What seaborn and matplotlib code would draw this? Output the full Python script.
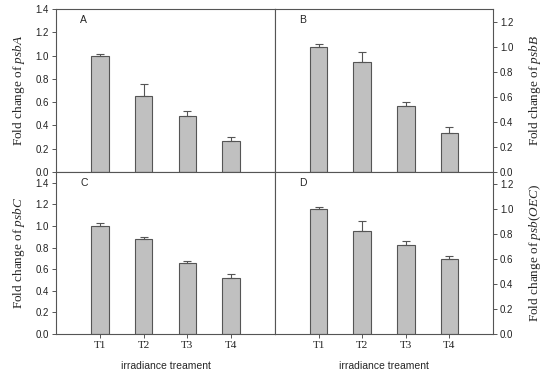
import pandas as pd
import matplotlib
matplotlib.use('Agg')
import matplotlib.pyplot as plt
import seaborn as sns

treatments = ['T1', 'T2', 'T3', 'T4']

psbA = [1.00, 0.655, 0.477, 0.266]
psbA_err = [0.015, 0.105, 0.046, 0.037]
psbB = [1.00, 0.878, 0.527, 0.309]
psbB_err = [0.02, 0.08, 0.034, 0.048]
psbC = [1.00, 0.88, 0.654, 0.515]
psbC_err = [0.025, 0.02, 0.025, 0.037]
psbOEC = [1.00, 0.827, 0.718, 0.601]
psbOEC_err = [0.02, 0.083, 0.027, 0.026]

panels = [
    ('A', psbA, psbA_err, r'Fold change of $\mathit{psbA}$', 1.4, [0, 0.2, 0.4, 0.6, 0.8, 1.0, 1.2, 1.4]),
    ('B', psbB, psbB_err, r'Fold change of $\mathit{psbB}$', 1.3, [0, 0.2, 0.4, 0.6, 0.8, 1.0, 1.2]),
    ('C', psbC, psbC_err, r'Fold change of $\mathit{psbC}$', 1.5, [0, 0.2, 0.4, 0.6, 0.8, 1.0, 1.2, 1.4]),
    ('D', psbOEC, psbOEC_err, r'Fold change of $\mathit{psb(OEC)}$', 1.3, [0, 0.2, 0.4, 0.6, 0.8, 1.0, 1.2]),
]

sns.set_style('ticks')
plt.rcParams['font.family'] = ['Liberation Sans', 'DejaVu Sans']
plt.rcParams['mathtext.fontset'] = 'custom'
plt.rcParams['mathtext.rm'] = 'Liberation Serif'
plt.rcParams['mathtext.it'] = 'Liberation Serif:italic'

EDGE = '#555555'
fig = plt.figure(figsize=(5.5, 3.77), dpi=100)
positions = [
    [0.1018, 0.5438, 0.3982, 0.4322],
    [0.5, 0.5438, 0.3964, 0.4322],
    [0.1018, 0.114, 0.3982, 0.4298],
    [0.5, 0.114, 0.3964, 0.4298],
]

for i, (letter, vals, errs, ylab, ymax, yt) in enumerate(panels):
    ax = fig.add_axes(positions[i])
    df = pd.DataFrame({'treatment': treatments, 'value': vals})
    sns.barplot(data=df, x='treatment', y='value', order=treatments,
                color='#c0c0c0', edgecolor=EDGE, linewidth=0.8,
                width=0.4, saturation=1, errorbar=None, ax=ax)
    ax.errorbar(range(len(treatments)), vals, yerr=[[0] * 4, errs],
                fmt='none', ecolor=EDGE, elinewidth=0.8, capsize=3, capthick=0.8)
    ax.set_xlim(-1, 4)
    ax.set_ylim(0, ymax)
    ax.set_yticks(yt)
    ax.set_yticklabels([f'{t:.1f}' for t in yt], fontsize=7)
    for s in ax.spines.values():
        s.set_color(EDGE)
        s.set_linewidth(0.8)
    ax.tick_params(colors='#222222', color=EDGE, length=3, width=0.7, pad=2)
    right = i % 2 == 1
    if right:
        ax.yaxis.tick_right()
        ax.yaxis.set_label_position('right')
    ax.set_ylabel(ylab, fontsize=9.5, family='Liberation Serif',
                  labelpad=10 if right else 6)
    ax.text(0.11, 0.93, letter, transform=ax.transAxes,
            fontsize=7.5, va='center', ha='left')
    if i >= 2:
        ax.set_xticks(range(4))
        ax.set_xticklabels(treatments, fontsize=8, family='Liberation Serif')
        ax.set_xlabel('irradiance treament', fontsize=7.5, labelpad=8)
    else:
        ax.set_xticks([])
        ax.set_xlabel('')

fig.savefig('out.png', dpi=100)
